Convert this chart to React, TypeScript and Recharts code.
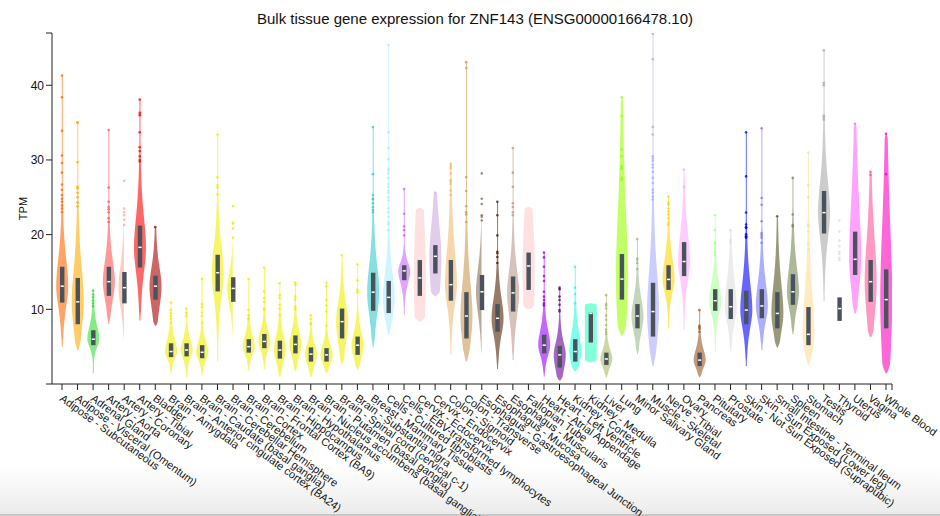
import React from 'react';
import { ComposedChart, Bar, Scatter, XAxis, YAxis } from 'recharts';

const tissues = [
  'Adipose - Subcutaneous', 'Adipose - Visceral (Omentum)', 'Adrenal Gland', 'Artery - Aorta',
  'Artery - Coronary', 'Artery - Tibial', 'Bladder', 'Brain - Amygdala',
  'Brain - Anterior cingulate cortex (BA24)', 'Brain - Caudate (basal ganglia)',
  'Brain - Cerebellar Hemisphere', 'Brain - Cerebellum', 'Brain - Cortex',
  'Brain - Frontal Cortex (BA9)', 'Brain - Hippocampus', 'Brain - Hypothalamus',
  'Brain - Nucleus accumbens (basal ganglia)', 'Brain - Putamen (basal ganglia)',
  'Brain - Spinal cord (cervical c-1)', 'Brain - Substantia nigra', 'Breast - Mammary Tissue',
  'Cells - Cultured fibroblasts', 'Cells - EBV-transformed lymphocytes', 'Cervix - Ectocervix',
  'Cervix - Endocervix', 'Colon - Sigmoid', 'Colon - Transverse',
  'Esophagus - Gastroesophageal Junction', 'Esophagus - Mucosa', 'Esophagus - Muscularis',
  'Fallopian Tube', 'Heart - Atrial Appendage', 'Heart - Left Ventricle', 'Kidney - Cortex',
  'Kidney - Medulla', 'Liver', 'Lung', 'Minor Salivary Gland', 'Muscle - Skeletal',
  'Nerve - Tibial', 'Ovary', 'Pancreas', 'Pituitary', 'Prostate',
  'Skin - Not Sun Exposed (Suprapubic)', 'Skin - Sun Exposed (Lower leg)',
  'Small Intestine - Terminal Ileum', 'Spleen', 'Stomach', 'Testis', 'Thyroid', 'Uterus',
  'Vagina', 'Whole Blood',
];

const colors = [
  '#FF6600', '#FFAA00', '#33DD33', '#FF5555', '#FFAA99', '#FF0000', '#AA0000',
  '#EEEE00', '#EEEE00', '#EEEE00', '#EEEE00', '#EEEE00', '#EEEE00', '#EEEE00',
  '#EEEE00', '#EEEE00', '#EEEE00', '#EEEE00', '#EEEE00', '#EEEE00',
  '#33CCCC', '#AAEEFF', '#CC66FF', '#FFCCCC', '#CCAADD', '#EEBB77', '#CC9955',
  '#8B7355', '#552200', '#BB9988', '#FFCCCC', '#9900FF', '#660099', '#22FFDD',
  '#33FFC2', '#AABB66', '#99FF00', '#99BB88', '#AAAAFF', '#FFD700', '#FFAAFF',
  '#995522', '#AAFF99', '#DDDDDD', '#0000FF', '#7777FF', '#555522', '#778855',
  '#FFDD99', '#AAAAAA', '#DDDDDD', '#FF66FF', '#FF5599', '#FF00BB',
];

// TPM
const violinLow = [
  5.0, 4.5, 1.45, 8.0, 5.6, 8.5, 7.8, 1.45, 0.9, 1.2, 3.0, 4.35, 1.7, 2.0, 0.9, 1.7, 0.9, 1.45,
  2.65, 1.9, 5.0, 6.6, 9.3, 8.35, 11.8, 4.0, 3.0, 3.6, 2.0, 3.2, 10.0, 1.0, 0.47, 1.7, 2.9,
  0.87, 6.5, 4.0, 2.4, 7.4, 7.3, 0.9, 4.25, 4.35, 2.4, 4.55, 4.9, 6.65, 2.5, 11.1, 8.45, 9.4,
  6.25, 1.45,
];
const q1 = [
  10.9, 8.0, 5.2, 11.8, 10.8, 15.6, 11.3, 3.6, 3.7, 3.45, 12.4, 11.0, 4.2, 4.8, 3.4, 4.1, 3.0,
  3.0, 6.1, 3.9, 9.8, 9.5, 13.9, 11.8, 14.8, 11.15, 6.1, 9.9, 7.0, 9.7, 12.6, 4.1, 2.2, 3.0,
  5.55, 2.55, 11.3, 7.45, 6.35, 12.6, 14.45, 2.4, 9.8, 8.7, 8.0, 8.8, 7.45, 10.6, 5.2, 20.15,
  8.45, 14.6, 11.0, 7.45,
];
const medians = [
  13.1, 11.0, 6.0, 13.7, 12.9, 18.3, 13.1, 4.35, 4.55, 4.25, 14.9, 12.8, 5.0, 5.7, 4.55, 5.3,
  4.0, 3.9, 8.35, 5.2, 12.3, 11.6, 15.15, 14.2, 17.1, 13.3, 9.1, 12.35, 8.8, 12.2, 15.8, 5.2,
  3.9, 4.35, 9.45, 3.35, 14.05, 9.1, 9.7, 14.0, 16.4, 3.2, 11.15, 10.35, 9.9, 10.45, 9.45,
  12.35, 6.65, 22.95, 10.1, 16.7, 13.7, 11.3,
];
const q3 = [
  15.7, 14.2, 7.2, 15.7, 15.0, 21.2, 14.5, 5.45, 5.45, 5.2, 17.3, 14.3, 6.0, 6.7, 5.8, 6.5, 4.9,
  4.8, 10.1, 6.35, 14.9, 13.8, 15.9, 16.6, 18.6, 16.6, 12.3, 14.6, 10.7, 14.4, 17.6, 6.6, 5.1,
  6.0, 9.55, 4.2, 17.4, 10.7, 13.55, 15.9, 19.0, 4.2, 12.7, 12.7, 12.5, 12.7, 12.3, 14.7, 10.3,
  25.85, 11.6, 20.4, 16.6, 15.35,
];
const violinTop = [
  41.3, 35.0, 12.5, 34.0, 27.2, 38.1, 21.0, 10.9, 10.1, 14.1, 33.4, 23.8, 14.05, 15.6, 13.5,
  13.6, 9.2, 13.6, 17.25, 16.0, 34.4, 45.4, 26.1, 23.6, 25.6, 29.5, 43.1, 28.2, 24.4, 31.6,
  23.7, 17.6, 12.9, 15.7, 10.8, 11.9, 38.4, 19.4, 46.9, 25.1, 28.7, 9.9, 22.6, 20.6, 33.7,
  34.25, 22.45, 27.6, 31.0, 44.7, 21.9, 34.85, 28.4, 33.5,
];
const outliers: number[][] = [
  [41.3, 38.4, 33.9, 30.6, 29.6, 28.3, 26.7, 26.0, 25.3, 24.8, 24.4, 23.9, 23.5, 23.0],
  [35.0, 35.0, 29.7, 26.4, 26.2, 25.6, 25.0, 24.3, 23.8],
  [12.5, 12.0, 11.6, 11.2, 10.8, 10.4],
  [34.0, 26.3, 24.4, 23.7, 23.4, 23.0, 22.2, 21.7],
  [27.2, 23.5, 23.0, 22.6, 22.0, 21.3],
  [38.1, 36.3, 36.0, 33.7, 31.7, 31.2, 30.5, 30.0, 29.8],
  [21.0],
  [10.9, 9.9, 9.5, 9.1, 8.7, 8.2],
  [10.1, 9.5, 9.1],
  [14.1, 10.7, 10.3, 9.55, 9.1, 8.2],
  [33.4, 27.7, 26.6, 26.3, 25.4],
  [23.8, 21.6, 21.5, 20.8, 19.6],
  [14.05, 9.9, 9.2, 8.8, 8.6],
  [15.6, 12.4, 11.5, 11.0, 10.1, 9.9],
  [13.5, 11.9, 11.5, 10.6, 10.1, 9.2],
  [13.6, 13.3, 11.7, 11.3, 10.35, 10.0],
  [9.2, 8.7, 8.2, 8.0],
  [13.6, 13.1, 11.25, 10.5, 9.7, 7.8],
  [17.25],
  [16.0, 13.9, 12.6, 12.3],
  [34.4, 28.1, 25.3, 24.8, 24.7, 24.2, 23.7, 23.3, 23.0],
  [45.4, 33.7, 31.6, 30.1, 28.8, 28.6, 28.2, 27.6, 26.8, 26.4, 25.9, 25.6, 25.0, 24.6, 23.5, 23.0, 22.4, 21.7, 21.4, 20.6],
  [26.1, 22.8, 21.1, 20.6, 19.9],
  [],
  [25.6],
  [29.5, 29.2, 28.9, 28.2, 27.3, 27.1, 26.8, 25.9, 25.3],
  [43.1, 42.3, 27.7, 25.85, 23.8, 23.0, 22.7, 21.7],
  [28.2, 24.8, 24.1, 22.6, 22.4, 21.9],
  [24.4, 22.6, 19.9, 17.7, 17.5, 17.0, 16.2],
  [31.6, 28.3, 26.4, 24.2, 23.7, 23.0, 22.6],
  [],
  [17.6, 16.95, 15.7, 14.45, 13.8, 12.35, 11.7, 11.25, 10.8, 10.6, 10.5],
  [12.9, 12.7, 11.7, 11.25, 10.6, 9.9, 9.7],
  [15.7, 12.9, 12.05, 10.8],
  [],
  [11.9, 10.7, 10.5, 10.1, 9.15, 8.6, 7.9, 7.3, 7.0, 6.7],
  [38.4, 35.9, 31.4, 30.5, 29.2, 29.0, 28.8, 27.6, 27.3],
  [19.4, 16.8, 16.6, 16.2, 15.4],
  [46.9, 43.5, 34.4, 33.4, 30.5, 30.2, 29.9, 29.4, 29.0, 28.4, 27.6, 26.9, 26.0, 25.6, 25.1, 24.7],
  [25.1, 24.25, 24.0, 23.5, 23.1, 22.7, 22.2, 21.6, 21.3],
  [28.7, 26.4],
  [9.9, 7.8, 7.6, 7.4, 7.0],
  [22.6, 20.6, 19.0, 18.7, 18.2, 17.8, 17.5, 17.2],
  [20.6, 19.25, 18.9],
  [33.7, 27.8, 22.95, 21.35, 21.0, 20.9, 20.05, 19.8, 19.7, 19.6],
  [34.25, 24.9, 24.0, 21.8, 20.2, 19.9, 19.6, 18.9],
  [22.45],
  [27.6, 22.7, 21.3, 21.1],
  [31.0, 26.6, 25.0, 21.35, 21.15, 20.4, 18.7, 18.05],
  [44.7, 40.3, 40.0, 35.9, 35.7, 35.4],
  [21.9, 20.4, 19.2, 18.45, 17.7, 17.4, 16.9, 16.6],
  [34.85],
  [28.4, 28.0],
  [33.5, 28.1],
];

// how broad each violin's density looks (1 = normal)
const bandwidth = [
  1, 1, 1, 1, 1, 1, 1.3, 1, 1, 1, 1, 1, 1, 1, 1, 1, 1, 1, 1, 1, 1, 1, 1, 2.8, 2, 1, 1, 1, 1, 1,
  3, 1, 1, 1, 8, 1, 2.0, 1, 1, 1, 1, 1, 1, 1, 1, 1, 1, 1, 1, 1, 1, 1.5, 1.4, 1.8,
];
const hiddenViolins = ['Thyroid'];

const yTicks = [0, 10, 20, 30, 40, 47];
const xTicks = [...tissues.map((_, i) => i), 53.386];

const chartData = tissues.map((name, i) => ({ idx: i, name, range: [violinLow[i], violinTop[i]] }));
const pointData = tissues.flatMap((_, i) => outliers[i].map((v) => ({ idx: i, tpm: v, color: colors[i] })));

const FONT = '"Liberation Sans", Arial, Helvetica, sans-serif';
const BOX_FILL = '#4a535b';

function ViolinShape(props: any) {
  const { x, y, width, height, payload } = props;
  if (!payload) return null;
  const i = payload.idx;
  const top = Math.min(y, y + height);
  const h = Math.abs(height);
  const lo = violinLow[i];
  const hi = violinTop[i];
  const toY = (v: number) => top + (h * (hi - v)) / (hi - lo);
  const cx = x + width / 2;
  const half = width / 2;
  const med = medians[i];
  const iqr = q3[i] - q1[i];
  const sUp = (Math.max(q3[i] - med, iqr * 0.35) / 0.674) * bandwidth[i];
  const sDn = (Math.max(med - q1[i], iqr * 0.35) / 0.674) * bandwidth[i];

  let path = '';
  if (!hiddenViolins.includes(tissues[i])) {
    const steps = 100;
    const span = hi - lo;
    const left: string[] = [];
    const right: string[] = [];
    for (let s = 0; s <= steps; s++) {
      const v = lo + (span * s) / steps;
      let k;
      if (v >= med) {
        const z = (v - med) / sUp;
        k = 1 / Math.pow(1 + (z * z) / 3, 1.6);
      } else {
        const z = (med - v) / sDn;
        k = 1 / Math.pow(1 + (z * z) / 3, 2);
      }
      const tb = Math.min(1, (v - lo) / (span * 0.04));
      const tt = Math.min(1, (hi - v) / (span * 0.02));
      const w = Math.max(0.5, half * k * Math.sqrt(tb) * Math.sqrt(tt));
      const py = toY(v);
      left.push(`${(cx - w).toFixed(2)},${py.toFixed(2)}`);
      right.push(`${(cx + w).toFixed(2)},${py.toFixed(2)}`);
    }
    path = `M${left.join('L')}L${right.reverse().join('L')}Z`;
  }

  const yq3 = toY(q3[i]);
  const yq1 = toY(q1[i]);
  const ym = toY(med);
  return (
    <g>
      {path && <path d={path} fill={colors[i]} fillOpacity={0.6} stroke="none" />}
      <rect x={cx - 2.2} y={yq3} width={4.4} height={yq1 - yq3} fill={BOX_FILL} />
      <rect x={cx - 1.6} y={ym - 0.75} width={3.2} height={1.5} fill="#ffffff" />
    </g>
  );
}

function PointShape(props: any) {
  const { cx, cy, payload } = props;
  if (cx == null || cy == null) return null;
  return <circle cx={cx} cy={cy} r={1.3} fill={payload.color} fillOpacity={0.8} />;
}

function XTick(props: any) {
  const { x, y, payload } = props;
  const name = tissues[payload.value];
  if (!name) return null;
  return (
    <g transform={`translate(${x - 3},${y + 8})`}>
      <text transform="rotate(36)" textAnchor="start" fontSize={11} fontFamily={FONT} fill="#111">
        {name}
      </text>
    </g>
  );
}

function TpmLabel(props: any) {
  const { viewBox } = props;
  const cx = 23;
  const cy = viewBox.y + viewBox.height / 2;
  return (
    <text x={cx} y={cy} transform={`rotate(-90 ${cx} ${cy})`} textAnchor="middle" dominantBaseline="central" fontSize={11} fontFamily={FONT} fill="#111">
      TPM
    </text>
  );
}

export default function App() {
  return (
    <div style={{ position: 'absolute', left: 0, top: 0, width: 940, height: 516, background: '#fff', overflow: 'hidden' }}>
      <div
        style={{
          position: 'absolute', left: 0, top: 466, width: 940, height: 50,
          background: 'linear-gradient(to bottom, rgba(0,0,0,0), rgba(0,0,0,0.08))',
          borderBottom: '2px solid #c8c8c8', boxSizing: 'border-box',
        }}
      />
      <div
        style={{
          position: 'absolute', left: 5, top: 10, width: 940, textAlign: 'center',
          fontSize: 15, lineHeight: '17px', fontFamily: FONT, color: '#111',
        }}
      >
        Bulk tissue gene expression for ZNF143 (ENSG00000166478.10)
      </div>
      <div style={{ position: 'absolute', left: 0, top: 0 }}>
        <ComposedChart width={940} height={516} data={chartData} margin={{ top: 33, right: 48, bottom: 32, left: 0 }}>
          <XAxis
            type="number"
            dataKey="idx"
            domain={[-0.643, 53.386]}
            allowDataOverflow
            ticks={xTicks}
            interval={0}
            height={100}
            tick={<XTick />}
            tickSize={6}
            axisLine={{ stroke: '#222' }}
            tickLine={{ stroke: '#222' }}
          />
          <YAxis
            type="number"
            domain={[0, 47]}
            allowDataOverflow
            ticks={yTicks}
            interval={0}
            width={52}
            tickSize={6}
            tickFormatter={(v: number) => (v === 0 || v === 47 ? '' : String(v))}
            tick={{ fontSize: 12, fontFamily: FONT, fill: '#111' }}
            axisLine={{ stroke: '#222' }}
            tickLine={{ stroke: '#222' }}
            label={<TpmLabel />}
          />
          <Bar dataKey="range" barSize={12} shape={<ViolinShape />} isAnimationActive={false} />
          <Scatter data={pointData} dataKey="tpm" shape={<PointShape />} isAnimationActive={false} />
        </ComposedChart>
      </div>
    </div>
  );
}
